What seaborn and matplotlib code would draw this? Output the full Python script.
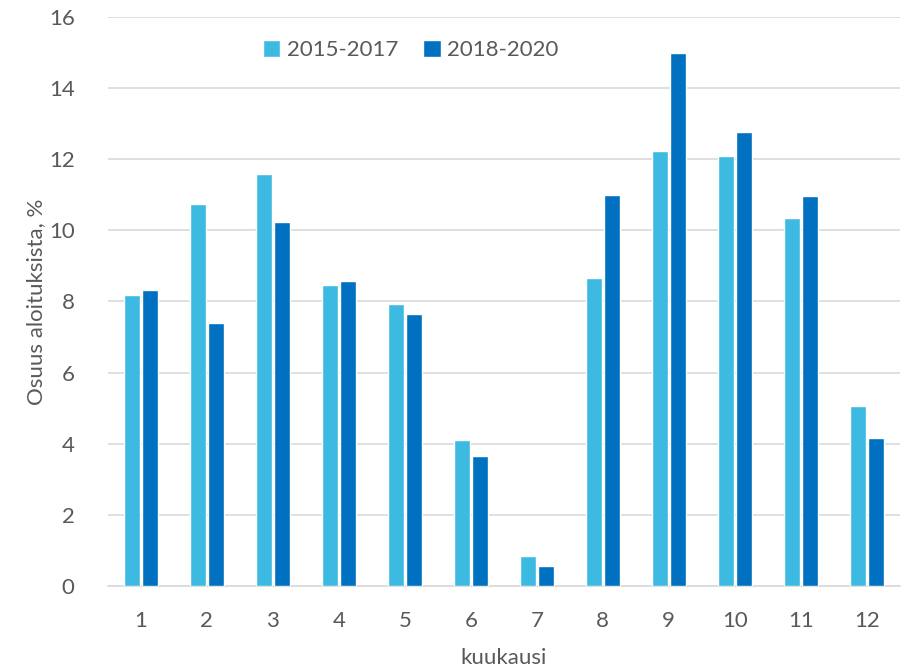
import matplotlib
matplotlib.use("Agg")
import matplotlib.pyplot as plt
import seaborn as sns
import pandas as pd

# data
months = [str(m) for m in range(1, 13)]
p2015_2017 = [8.17, 10.73, 11.59, 8.45, 7.94, 4.10, 0.84, 8.66, 12.24, 12.08, 10.33, 5.05]
p2018_2020 = [8.33, 7.40, 10.22, 8.58, 7.64, 3.65, 0.55, 10.98, 14.98, 12.75, 10.96, 4.16]
series = ["2015-2017", "2018-2020"]
colors = ["#3DBAE2", "#0070C0"]

df = pd.DataFrame({
    "kuukausi": months * 2,
    "osuus": p2015_2017 + p2018_2020,
    "jakso": [series[0]] * 12 + [series[1]] * 12,
})

sns.set_style("white")
plt.rcParams["font.family"] = ["Lato", "DejaVu Sans"]
txt = "#595959"

fig = plt.figure(figsize=(9.07, 6.69), dpi=100)
ax = fig.add_axes([0.119, 0.124, 0.873, 0.851])

sns.barplot(data=df, x="kuukausi", y="osuus", hue="jakso", order=months,
            hue_order=series, palette=colors, width=0.54, gap=0.1,
            saturation=1, ax=ax, zorder=3)

ax.set_ylim(0, 16)
ax.set_xlim(-0.5, 11.5)
ax.set_yticks(range(0, 17, 2))
ax.yaxis.grid(True, color="#D9D9D9", linewidth=1.2, zorder=0)
ax.set_axisbelow(True)
for s in ["top", "right", "left"]:
    ax.spines[s].set_visible(False)
ax.spines["bottom"].set_color("#D9D9D9")
ax.spines["bottom"].set_linewidth(1.2)
ax.tick_params(axis="both", length=0, labelsize=16, colors=txt)
ax.tick_params(axis="x", pad=18)
ax.tick_params(axis="y", pad=24)
ax.set_xlabel("kuukausi", fontsize=16, color=txt, labelpad=12)
ax.set_ylabel("Osuus aloituksista, %", fontsize=16, color=txt, labelpad=2)

ax.legend(loc="upper left", bbox_to_anchor=(0.17, 0.995), ncol=2, frameon=False,
          fontsize=16, labelcolor=txt, handlelength=0.8, handleheight=0.8,
          handletextpad=0.3, columnspacing=1.1)

fig.savefig("out.png", dpi=100)
